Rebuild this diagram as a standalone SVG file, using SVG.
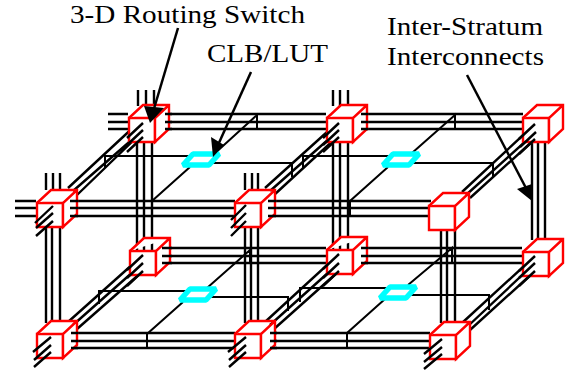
<svg xmlns="http://www.w3.org/2000/svg" width="576" height="372" viewBox="0 0 576 372">
<style>
text{font-family:"Liberation Serif","Times New Roman",serif;font-size:26px;fill:#000}
.w{fill:none;stroke:#000;stroke-width:2.4}
.t{fill:none;stroke:#000;stroke-width:2}
.a{fill:none;stroke:#000;stroke-width:2.5}
.h{fill:#000;stroke:none}
.c{fill:#fff;stroke:#f00;stroke-width:2.4;stroke-linejoin:miter}
.l{fill:#fff;stroke:#0ff;stroke-width:5.5;stroke-linejoin:bevel}
</style>
<defs>
<g id="cube">
<path class="c" d="M0 0H26V24H0Z"/>
<path class="c" d="M0 0L14 -13H40V11L26 24V0L40 -13"/>
</g>
<path id="clb" class="l" d="M-7 -6H19L9 5H-17Z"/>
</defs>
<g id="connectors">
<path class="w" d="M108 114H128M108 122H128M108 129H128M165 114H326M165 122H326M165 129H326M362 114H523M362 122H523M362 129H523"/>
<path class="w" d="M15 201H36M15 208H36M15 216H36M70 201H235M70 208H235M70 216H235M268 201H431M268 208H431M268 216H431"/>
<path class="w" d="M162 248H326M162 256H326M162 263H326M361 248H522M361 256H522M361 263H522"/>
<path class="w" d="M71 333H235M71 341H235M71 348H235M270 333H430M270 341H430M270 348H430"/>
<path class="w" d="M138 90V106M146 90V106M154 90V106M333 90V106M340 90V106M348 90V106M46 173V190M53 173V190M60 173V190M245 173V190M252 173V190M258 173V190"/>
<path class="w" d="M137 142V250M144 142V250M152 142V250M333 142V250M340 142V250M348 142V250M532 142V240M538 142V240M545 142V240"/>
<path class="w" d="M46 226V323M52 226V323M60 226V323M245 226V323M251 226V323M258 226V323M441 230V323M447 230V323M455 230V323"/>
<path class="w" d="M68 188L138 123M73 191L143 130M77 195L137 137M265 188L337 123M270 191L339 130M274 195L337 137M462 192L535 124M466 195L536 132M470 198L535 139"/>
<path class="w" d="M68 322L143 255M73 325L143 263M77 329L143 271M265 322L339 254M270 325L339 263M274 329L339 271M462 323L535 256M467 327L535 263M470 330L535 271"/>
<path class="t" d="M105 168V156H193M213 163H292V177M213 155L257 115V129M190 167L152 201V216"/>
<path class="t" d="M303 168V156H392M410 163H493V177M412 153L455 115V129M388 167L350 201V216"/>
<path class="t" d="M99 304V291H187M207 297H288V311M207 288L250 250V262M183 302L147 334V349"/>
<path class="t" d="M300 302V288H388M408 295H489V310M408 285L452 248V262M385 299L347 333V348"/>
</g>
<g id="switch-1"><use href="#cube" x="129" y="118"/></g>
<g id="switch-2"><use href="#cube" x="327" y="118"/></g>
<g id="switch-3"><use href="#cube" x="523" y="118"/></g>
<g id="switch-4"><use href="#cube" x="37" y="203"/></g>
<g id="switch-5"><use href="#cube" x="235" y="203"/></g>
<g id="switch-6"><use href="#cube" x="429" y="206"/></g>
<g id="switch-7"><use href="#cube" x="130" y="251"/></g>
<g id="switch-8"><use href="#cube" x="327" y="250"/></g>
<g id="switch-9"><use href="#cube" x="523" y="252"/></g>
<g id="switch-10"><use href="#cube" x="37" y="334"/></g>
<g id="switch-11"><use href="#cube" x="235" y="334"/></g>
<g id="switch-12"><use href="#cube" x="430" y="335"/></g>
<g id="clb-1"><use href="#clb" x="200" y="160"/></g>
<g id="clb-2"><use href="#clb" x="400" y="160"/></g>
<g id="clb-3"><use href="#clb" x="197" y="295"/></g>
<g id="clb-4"><use href="#clb" x="397" y="293"/></g>
<g id="stubs">
<path class="w" d="M143 123L127 138M143 130L127 145M143 137L127 152M339 123L323 138M339 130L323 145M339 137L323 152M535 124L519 139M536 132L520 147M535 139L519 154"/>
<path class="w" d="M53 206L35 223M53 213L36 228M53 221L36 236M246 205L231 220M246 213L231 228M246 221L231 236"/>
<path class="w" d="M143 255L127 270M143 263L127 278M143 271L127 286M339 254L323 269M339 263L323 278M339 271L323 286M535 256L519 271M535 263L519 278M535 271L519 286"/>
<path class="w" d="M51 337L33 352M51 345L34 360M51 352L34 367M246 337L228 352M246 345L229 360M246 352L229 367M442 339L424 354M442 347L424 362M442 354L424 369"/>
<path class="w" d="M165 114H172M165 122H172M165 129H172M361 114H368M361 122H368M361 129H368M70 201H78M70 208H78M70 216H78M268 201H276M268 208H276M268 216H276M162 248H172M162 256H172M162 263H172M361 248H368M361 256H368M361 263H368M71 333H78M71 341H78M71 348H78M270 333H277M270 341H277M270 348H277"/>
</g>
<g id="arrows">
<path class="a" d="M178 28L153 112"/><path class="h" d="M150 123L144 106L164 108Z"/>
<path class="a" d="M251 72L218 145"/><path class="h" d="M213 157L211 137L224 145Z"/>
<path class="a" d="M467 75L527 190"/><path class="h" d="M532 201L517 189L532 184Z"/>
</g>
<g id="labels">
<text x="70" y="23" textLength="235" lengthAdjust="spacingAndGlyphs">3-D Routing Switch</text>
<text x="207" y="62" textLength="121" lengthAdjust="spacingAndGlyphs">CLB/LUT</text>
<text x="387" y="35" textLength="156" lengthAdjust="spacingAndGlyphs">Inter-Stratum</text>
<text x="387" y="65" textLength="157" lengthAdjust="spacingAndGlyphs">Interconnects</text>
</g>
</svg>
